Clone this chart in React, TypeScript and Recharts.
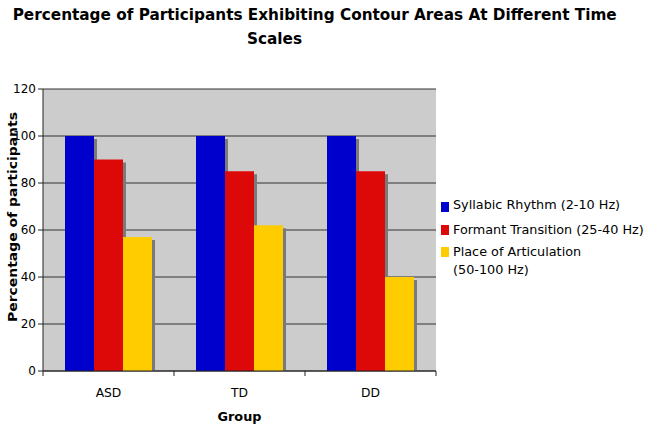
import React from 'react';
import { BarChart, Bar, XAxis, YAxis, CartesianGrid, Legend, ReferenceArea } from 'recharts';

const groups = ['ASD', 'TD', 'DD'];
const syllabic = [100, 100, 100];
const formant = [90, 85, 85];
const place = [57, 62, 40];
const yTicks = [0, 20, 40, 60, 80, 100, 120];
const seriesNames = ['Syllabic Rhythm (2-10 Hz)', 'Formant Transition (25-40 Hz)', 'Place of Articulation (50-100 Hz)'];
const legendLines = [['Syllabic Rhythm (2-10 Hz)'], ['Formant Transition (25-40 Hz)'], ['Place of Articulation', '(50-100 Hz)']];
const seriesColors = ['#0000CC', '#DD0808', '#FFCC00'];
const titleLines = ['Percentage of Participants Exhibiting Contour Areas At Different Time', 'Scales'];
const yAxisTitle = 'Percentage of participants';
const xAxisTitle = 'Group';

const data = groups.map((g, i) => ({ group: g, syllabic: syllabic[i], formant: formant[i], place: place[i] }));

const FONT = '"DejaVu Sans", Verdana, sans-serif';

const ShadowBar = (props: any) => {
  const { x, y, width, height, fill } = props;
  if (width == null || height == null) return null;
  return (
    <g>
      <rect x={x + width} y={y + 3} width={3} height={Math.max(0, height - 3)} fill="#7a7a7a" />
      <rect x={x} y={y} width={width} height={height} fill={fill} />
    </g>
  );
};

const XTick = (props: any) => {
  const { x, y, payload, index } = props;
  const half = payload && payload.offset ? payload.offset : (436 - 43) / groups.length / 2;
  const last = index === groups.length - 1;
  return (
    <g>
      <line x1={x - half} y1={y - 5} x2={x - half} y2={y} stroke="#222" />
      {last && <line x1={x + half} y1={y - 5} x2={x + half} y2={y} stroke="#222" />}
      <text x={x} y={y + 21} textAnchor="middle" fontSize={12.3} fontFamily={FONT} fill="#000">
        {payload.value}
      </text>
    </g>
  );
};

const LegendContent = () => (
  <div style={{ fontFamily: FONT, fontSize: 12.8, color: '#000', lineHeight: '18px' }}>
    {legendLines.map((lines, i) => (
      <div key={i} style={{ display: 'flex', alignItems: 'flex-start', marginBottom: i === 0 ? 7 : 4 }}>
        <span style={{ display: 'inline-block', flex: 'none', width: 8, height: 10, background: seriesColors[i], marginTop: i === 0 ? 6 : 4, marginRight: 4 }} />
        <span>
          {lines.map((l, j) => (
            <div key={j}>{l}</div>
          ))}
        </span>
      </div>
    ))}
  </div>
);

export default function App() {
  return (
    <div style={{ position: 'absolute', left: 0, top: 0, width: 652, height: 431, background: '#fff' }}>
      <div style={{ position: 'absolute', left: 0, top: 0 }}>
        <BarChart width={652} height={431} data={data} margin={{ top: 89, right: 216, bottom: 0, left: 0 }} barGap={0} barSize={29}>
          <CartesianGrid vertical={false} stroke="#333" fill="#CCCCCC" fillOpacity={1} />
          <ReferenceArea fill="none" stroke="#999999" strokeWidth={1} />
          <XAxis
            dataKey="group"
            height={60}
            tickLine={false}
            tickSize={5}
            tickMargin={0}
            axisLine={{ stroke: '#222' }}
            tick={<XTick />}
            label={{ value: xAxisTitle, position: 'insideBottom', offset: 10, fontFamily: FONT, fontWeight: 'bold', fontSize: 12.8, fill: '#000' }}
          />
          <YAxis
            width={43}
            domain={[0, 120]}
            ticks={yTicks}
            interval={0}
            tickSize={5}
            tickMargin={2}
            axisLine={{ stroke: '#222' }}
            tickLine={{ stroke: '#222' }}
            tick={{ fontSize: 12, fontFamily: FONT, fill: '#000' }}
          />
          <Bar dataKey="syllabic" name={seriesNames[0]} fill={seriesColors[0]} shape={<ShadowBar />} isAnimationActive={false} />
          <Bar dataKey="formant" name={seriesNames[1]} fill={seriesColors[1]} shape={<ShadowBar />} isAnimationActive={false} />
          <Bar dataKey="place" name={seriesNames[2]} fill={seriesColors[2]} shape={<ShadowBar />} isAnimationActive={false} />
          <Legend
            layout="vertical"
            align="center"
            verticalAlign="middle"
            content={<LegendContent />}
            wrapperStyle={{ left: 441, top: 196, width: 211 }}
          />
        </BarChart>
      </div>
      <svg width={652} height={431} style={{ position: 'absolute', left: 0, top: 0, pointerEvents: 'none' }}>
        <text x={12.7} y={19.5} fontFamily={FONT} fontWeight="bold" fontSize={15} textLength={604} lengthAdjust="spacingAndGlyphs" fill="#000">
          {titleLines[0]}
        </text>
        <text x={247} y={43.5} fontFamily={FONT} fontWeight="bold" fontSize={15} textLength={55} lengthAdjust="spacingAndGlyphs" fill="#000">
          {titleLines[1]}
        </text>
        <text
          x={0}
          y={0}
          transform="translate(16.5 217) rotate(-90)"
          textAnchor="middle"
          fontFamily={FONT}
          fontWeight="bold"
          fontSize={13}
          textLength={210}
          lengthAdjust="spacingAndGlyphs"
          fill="#000"
        >
          {yAxisTitle}
        </text>
      </svg>
    </div>
  );
}
